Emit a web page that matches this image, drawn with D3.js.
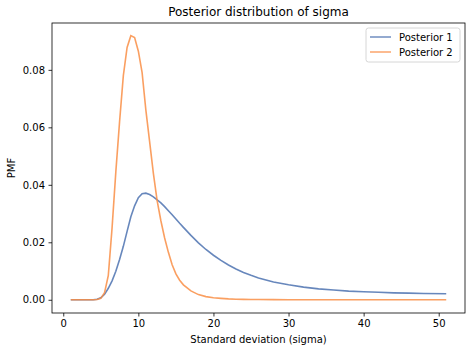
<!DOCTYPE html>
<html>
<head>
<meta charset="utf-8">
<script src="https://cdn.jsdelivr.net/npm/d3@7"></script>
<style>
  body { margin: 0; background: #fff; }
  svg { font-family: "DejaVu Sans", sans-serif; }
</style>
</head>
<body>
<div id="chart"></div>
<script>
// grid of sigma values
const sigmas = [1, 2, 3, 4, 4.5, 5, 5.5, 6, 6.5, 7, 7.5, 8, 8.5, 9, 9.5, 10, 10.5, 11, 11.5, 12,
  12.5, 13, 13.5, 14, 14.5, 15, 15.5, 16, 17, 18, 19, 20, 21, 22, 23, 24, 25, 26, 28, 30,
  32, 34, 36, 38, 40, 42, 44, 46, 48, 51];

const posterior1 = [0, 0, 0, 0, 0.0002, 0.0007, 0.0019, 0.0040, 0.0066, 0.0099, 0.0140, 0.0186, 0.0238, 0.0289, 0.0327, 0.0355, 0.0369, 0.0371, 0.0366, 0.0358,
  0.0348, 0.0337, 0.0324, 0.0310, 0.0296, 0.0281, 0.0266, 0.0252, 0.0224, 0.0198, 0.0175, 0.0155, 0.0137, 0.0121, 0.0107, 0.0095, 0.0085, 0.0076, 0.0062, 0.0052,
  0.0044, 0.0038, 0.0034, 0.0030, 0.0028, 0.0026, 0.0024, 0.0023, 0.0022, 0.0021];

const posterior2 = [0, 0, 0, 0, 0.0001, 0.0005, 0.0025, 0.0085, 0.0250, 0.0445, 0.0620, 0.0780, 0.0878, 0.0919, 0.0912, 0.0865, 0.0790, 0.0660, 0.0550, 0.0440,
  0.0345, 0.0275, 0.0215, 0.0165, 0.0122, 0.0090, 0.0068, 0.0052, 0.0031, 0.0018, 0.0011, 0.0007, 0.0005, 0.0003, 0.0002, 0.00015, 0.0001, 0.00008, 0.00005, 0.00003,
  0.00002, 0.00001, 0, 0, 0, 0, 0, 0, 0, 0];

const xTicks = [0, 10, 20, 30, 40, 50];
const yTicks = [0, 0.02, 0.04, 0.06, 0.08];

const seriesNames = ["Posterior 1", "Posterior 2"];
const seriesColors = ["#4c72b0", "#f98e45"];

const width = 472, height = 352;
const margin = { top: 23, right: 7, bottom: 39, left: 52 };

const svg = d3.select("#chart").append("svg")
  .attr("width", width)
  .attr("height", height);

const x = d3.scaleLinear()
  .domain([-1.5, 53.5])
  .range([margin.left, width - margin.right]);

const y = d3.scaleLinear()
  .domain([-0.0046, 0.0963])
  .range([height - margin.bottom, margin.top]);

// lines
const line = d3.line()
  .x(d => x(d[0]))
  .y(d => y(d[1]));

[posterior1, posterior2].forEach((vals, i) => {
  svg.append("path")
    .datum(sigmas.map((s, j) => [s, vals[j]]))
    .attr("fill", "none")
    .attr("stroke", seriesColors[i])
    .attr("stroke-opacity", 0.85)
    .attr("stroke-width", 1.6)
    .attr("d", line);
});

// X axis
const xAxis = svg.append("g")
  .attr("transform", `translate(0,${height - margin.bottom})`)
  .call(d3.axisBottom(x).tickValues(xTicks).tickSize(3.5).tickPadding(3.5).tickFormat(d3.format("d")));

// Y axis
const yAxis = svg.append("g")
  .attr("transform", `translate(${margin.left},0)`)
  .call(d3.axisLeft(y).tickValues(yTicks).tickSize(3.5).tickPadding(3.5).tickFormat(d3.format(".2f")));

[xAxis, yAxis].forEach(g => {
  g.select(".domain").remove();
  g.selectAll("line").attr("stroke", "#000").attr("stroke-width", 0.8);
  g.selectAll("text").attr("fill", "#000").style("font-size", "10px").style("font-family", "DejaVu Sans");
});

// frame
svg.append("rect")
  .attr("x", margin.left)
  .attr("y", margin.top)
  .attr("width", width - margin.left - margin.right)
  .attr("height", height - margin.top - margin.bottom)
  .attr("fill", "none")
  .attr("stroke", "#000")
  .attr("stroke-width", 0.8);

// title
svg.append("text")
  .attr("x", (margin.left + width - margin.right) / 2)
  .attr("y", 16)
  .attr("text-anchor", "middle")
  .style("font-size", "12px")
  .text("Posterior distribution of sigma");

// X label
svg.append("text")
  .attr("x", (margin.left + width - margin.right) / 2)
  .attr("y", 343)
  .attr("text-anchor", "middle")
  .style("font-size", "10px")
  .text("Standard deviation (sigma)");

// Y label
svg.append("text")
  .attr("transform", `translate(15,${(margin.top + height - margin.bottom) / 2}) rotate(-90)`)
  .attr("text-anchor", "middle")
  .style("font-size", "10px")
  .text("PMF");

// legend
const legend = svg.append("g").attr("transform", "translate(366,28)");
legend.append("rect")
  .attr("width", 94)
  .attr("height", 34)
  .attr("rx", 2.5)
  .attr("fill", "#fff")
  .attr("fill-opacity", 0.8)
  .attr("stroke", "#cccccc")
  .attr("stroke-width", 0.8);

seriesNames.forEach((name, i) => {
  const yy = 9 + i * 15;
  legend.append("line")
    .attr("x1", 4).attr("x2", 25)
    .attr("y1", yy).attr("y2", yy)
    .attr("stroke", seriesColors[i])
    .attr("stroke-opacity", 0.75)
    .attr("stroke-width", 1.6);
  legend.append("text")
    .attr("x", 33)
    .attr("y", yy + 3.6)
    .style("font-size", "10px")
    .text(name);
});
</script>
</body>
</html>
